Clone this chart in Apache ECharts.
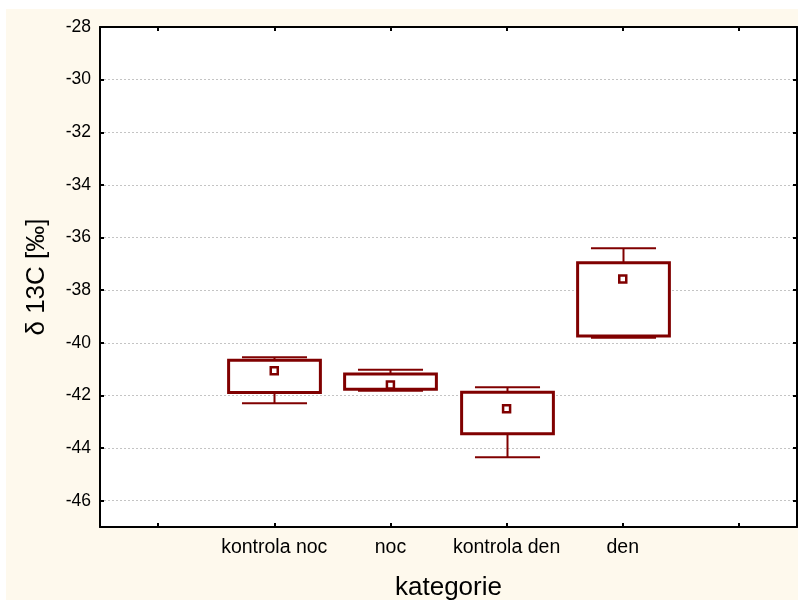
<!DOCTYPE html>
<html>
<head>
<meta charset="utf-8">
<script src="https://cdn.jsdelivr.net/npm/echarts@6/dist/echarts.min.js"></script>
<style>
  html, body { margin: 0; background: #fff; }
  #main { width: 800px; height: 606px; }
</style>
</head>
<body>
<div id="main"></div>
<script>
// kategorie (prázdné sloty po stranách jako v originále)
var categories = ['', 'kontrola noc', 'noc', 'kontrola den', 'den', ''];
var groups = ['kontrola noc', 'noc', 'kontrola den', 'den'];

// hodnoty
var whiskerLow  = [-42.30, -41.82, -44.35, -39.81];
var boxLow      = [-41.89, -41.77, -43.46, -39.74];
var boxHigh     = [-40.66, -41.19, -41.88, -36.96];
var whiskerHigh = [-40.55, -41.02, -41.69, -36.41];
var means       = [-41.06, -41.60, -42.51, -37.58];

var yTicks = [-46, -44, -42, -40, -38, -36, -34, -32, -30, -28];

var boxColor = '#800000';
var font = 'Liberation Sans, Arial, sans-serif';

var chart = echarts.init(document.getElementById('main'));

// krabice + vousy + průměr
function renderBox(params, api) {
  var cat = api.value(0);
  var band = api.size([1, 0])[0];
  var halfBox = band * 0.395;
  var halfCap = band * 0.28;
  var pWL = api.coord([cat, api.value(1)]);
  var pBL = api.coord([cat, api.value(2)]);
  var pBH = api.coord([cat, api.value(3)]);
  var pWH = api.coord([cat, api.value(4)]);
  var pM = api.coord([cat, api.value(5)]);
  var x = Math.round(pWL[0]) + 0.5;
  var thin = { stroke: boxColor, lineWidth: 2 };
  return {
    type: 'group',
    children: [
      { type: 'line', shape: { x1: x, y1: pWH[1], x2: x, y2: pBH[1] }, style: thin },
      { type: 'line', shape: { x1: x, y1: pBL[1], x2: x, y2: pWL[1] }, style: thin },
      {
        type: 'rect',
        shape: { x: x - halfBox, y: pBH[1], width: halfBox * 2, height: pBL[1] - pBH[1] },
        style: { fill: '#fff', stroke: boxColor, lineWidth: 3 }
      },
      { type: 'line', shape: { x1: x - halfCap, y1: pWH[1], x2: x + halfCap, y2: pWH[1] }, style: thin },
      { type: 'line', shape: { x1: x - halfCap, y1: pWL[1], x2: x + halfCap, y2: pWL[1] }, style: thin },
      {
        type: 'rect',
        shape: { x: pM[0] - 3.5, y: pM[1] - 3.5, width: 7, height: 7 },
        style: { fill: '#fff', stroke: boxColor, lineWidth: 2.5 }
      }
    ]
  };
}

var boxData = groups.map(function (g, i) {
  return [g, whiskerLow[i], boxLow[i], boxHigh[i], whiskerHigh[i], means[i]];
});

var axisLineStyle = { show: true, lineStyle: { color: '#000', width: 2 } };

var option = {
  animation: false,
  textStyle: { fontFamily: font },
  graphic: [{
    type: 'rect',
    silent: true,
    z: -10,
    shape: { x: 6, y: 9, width: 792, height: 591 },
    style: { fill: '#fef9ed' }
  }],
  grid: {
    left: 100,
    right: 3,
    top: 27,
    bottom: 78,
    show: true,
    backgroundColor: '#fff',
    borderWidth: 0
  },
  xAxis: [
    {
      type: 'category',
      data: categories,
      position: 'bottom',
      name: 'kategorie',
      nameLocation: 'middle',
      nameGap: 48,
      nameTextStyle: { fontSize: 26, color: '#000', fontFamily: font },
      axisLine: axisLineStyle,
      axisTick: { show: true, inside: true, alignWithLabel: true, length: 4, lineStyle: { color: '#000', width: 2 } },
      axisLabel: { fontSize: 19.5, color: '#000', margin: 11, interval: 0, fontFamily: font },
      splitLine: { show: false }
    },
    {
      type: 'category',
      data: categories,
      position: 'top',
      axisLine: axisLineStyle,
      axisTick: { show: true, inside: true, alignWithLabel: true, length: 4, lineStyle: { color: '#000', width: 2 } },
      axisLabel: { show: false },
      splitLine: { show: false }
    }
  ],
  yAxis: [
    {
      type: 'value',
      min: -47,
      max: -28,
      position: 'left',
      name: 'δ 13C [‰]',
      nameLocation: 'middle',
      nameRotate: 90,
      nameGap: 50,
      nameTextStyle: { fontSize: 26, color: '#000', fontFamily: font },
      axisLine: axisLineStyle,
      axisTick: { show: true, inside: true, length: 4, customValues: yTicks, lineStyle: { color: '#000', width: 2 } },
      axisLabel: { fontSize: 17.5, color: '#000', margin: 9, customValues: yTicks, fontFamily: font },
      splitLine: { show: true, lineStyle: { color: '#c4c4c4', width: 1, type: [2, 2] } }
    },
    {
      type: 'value',
      min: -47,
      max: -28,
      position: 'right',
      axisLine: axisLineStyle,
      axisTick: { show: true, inside: true, length: 4, customValues: yTicks, lineStyle: { color: '#000', width: 2 } },
      axisLabel: { show: false },
      splitLine: { show: false }
    }
  ],
  series: [{
    type: 'custom',
    name: 'δ 13C',
    renderItem: renderBox,
    encode: { x: 0, y: [1, 2, 3, 4, 5] },
    data: boxData,
    z: 5
  }]
};

chart.setOption(option);
</script>
</body>
</html>
